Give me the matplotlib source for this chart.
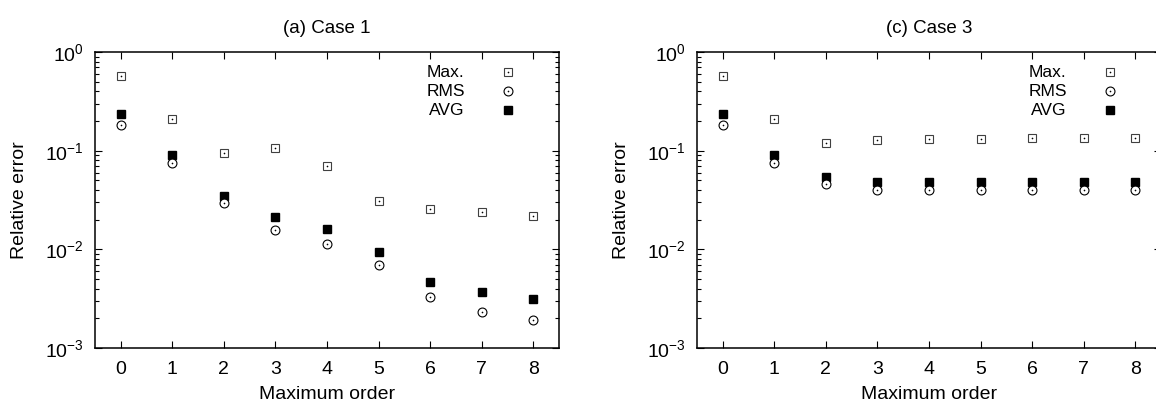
import matplotlib.pyplot as plt
import numpy as np
from matplotlib.ticker import LogLocator, NullFormatter

plt.rcParams['font.family'] = ['Liberation Sans', 'DejaVu Sans']
plt.rcParams['mathtext.fontset'] = 'custom'
plt.rcParams['mathtext.rm'] = 'Liberation Sans'
plt.rcParams['mathtext.it'] = 'Liberation Sans'
plt.rcParams['font.size'] = 14

orders = [0, 1, 2, 3, 4, 5, 6, 7, 8]

# case 1
max1 = [0.575, 0.208, 0.094, 0.106, 0.0695, 0.0307, 0.0257, 0.0239, 0.0220]
rms1 = [0.184, 0.0756, 0.0293, 0.0157, 0.01125, 0.0070, 0.00332, 0.00231, 0.00191]
avg1 = [0.234, 0.0898, 0.035, 0.0211, 0.0162, 0.00934, 0.00471, 0.00373, 0.00316]

# case 3
max3 = [0.575, 0.208, 0.1205, 0.128, 0.130, 0.132, 0.134, 0.135, 0.1355]
rms3 = [0.184, 0.0756, 0.0463, 0.0400, 0.0398, 0.0398, 0.0398, 0.0398, 0.0398]
avg3 = [0.234, 0.0898, 0.054, 0.0485, 0.0485, 0.0485, 0.0485, 0.0485, 0.0485]

titles = ["(a) Case 1", "(c) Case 3"]
names = ["Max.", "RMS", "AVG"]

W, H = 1156, 403
fig = plt.figure(figsize=(W / 100, H / 100), dpi=100)

def box(l, r, t, b):
    return [l / W, (H - b) / H, (r - l) / W, (b - t) / H]

ax1 = fig.add_axes(box(95, 559, 52, 348))
ax2 = fig.add_axes(box(697, 1161, 52, 348))

sq = dict(marker='s', ms=6.2, mfc='white', mec='#404040', mew=0.8, ls='none')
ci = dict(marker='o', ms=6.4, mfc='white', mec='black', mew=0.8, ls='none')
fs = dict(marker='s', ms=6.4, mfc='black', mec='black', ls='none')
dot = dict(marker='o', ms=1.2, mfc='black', mec='black', mew=0, ls='none')


def panel(ax, title, mx, rms, avg):
    ax.plot(orders, avg, **fs)
    ax.plot(orders, mx, **sq)
    ax.plot(orders, mx, **dot)
    ax.plot(orders, rms, **ci)
    ax.plot(orders, rms, **dot)

    ax.set_yscale('log')
    ax.set_ylim(1e-3, 1)
    ax.set_xlim(-0.5, 8.5)
    ax.set_xticks(orders)
    ax.yaxis.set_major_locator(LogLocator(base=10, numticks=10))
    ax.yaxis.set_minor_locator(LogLocator(base=10, subs=np.arange(2, 10), numticks=20))
    ax.yaxis.set_minor_formatter(NullFormatter())
    ax.tick_params(which='both', direction='in', top=True, right=True, width=0.8)
    ax.tick_params(which='major', length=5)
    ax.tick_params(which='minor', length=3)
    ax.tick_params(axis='x', pad=9)
    ax.tick_params(axis='y', pad=8)
    for s in ax.spines.values():
        s.set_linewidth(1.1)

    ax.set_title(title, fontsize=13.5, pad=14)
    ax.set_xlabel("Maximum order")
    ax.set_ylabel("Relative error")
    ax.xaxis.set_label_coords(0.5, -0.13)
    ax.yaxis.set_label_coords(-0.145, 0.5)

    # key in the upper right corner
    ys = [0.932, 0.868, 0.804]
    styles = [[sq, dot], [ci, dot], [fs]]
    for name, y, st in zip(names, ys, styles):
        ax.text(0.797, y, name, fontsize=12.5, transform=ax.transAxes,
                ha='right', va='center')
        for s in st:
            ax.plot([0.89], [y], transform=ax.transAxes, clip_on=False, **s)


panel(ax1, titles[0], max1, rms1, avg1)
panel(ax2, titles[1], max3, rms3, avg3)

fig.savefig("out.png", dpi=100)
